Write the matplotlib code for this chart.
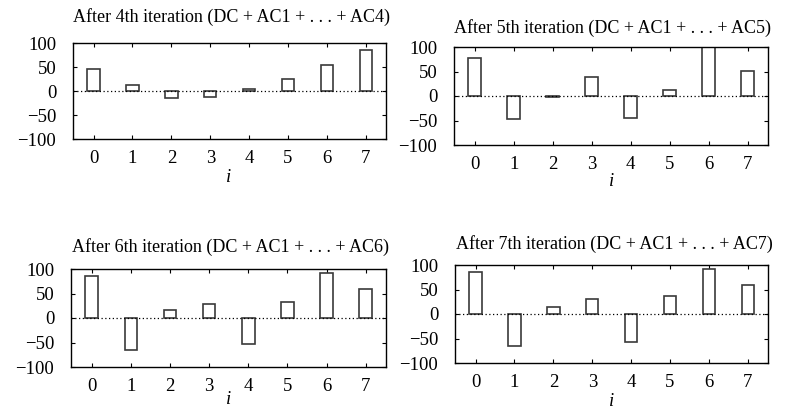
import matplotlib
matplotlib.use("Agg")
import matplotlib.pyplot as plt
import numpy as np

plt.rcParams['font.family'] = ['Liberation Serif', 'DejaVu Serif']

# ---- data ----
indices = [0, 1, 2, 3, 4, 5, 6, 7]
iter4 = [46, 12, -15, -13, 4, 25, 55, 85]
iter5 = [77, -46, -3, 38, -45, 12, 100, 51]
iter6 = [86, -66, 17, 28, -53, 32, 91, 60]
iter7 = [85, -66, 15, 31, -57, 36, 91, 60]
titles = ["After 4th iteration (DC + AC1 + . . . + AC4)",
          "After 5th iteration (DC + AC1 + . . . + AC5)",
          "After 6th iteration (DC + AC1 + . . . + AC6)",
          "After 7th iteration (DC + AC1 + . . . + AC7)"]
yticks = [-100, -50, 0, 50, 100]
yticklabels = ["\u2212100", "\u221250", "0", "50", "100"]
xlabel = "i"

W, H = 792, 409
fig = plt.figure(figsize=(W / 100, H / 100), dpi=100)

# pixel boxes: left, right, top, bottom
boxes = [(73, 386, 43, 139), (454, 768, 47, 145),
         (71, 386, 269, 367), (455, 768, 265, 363)]
title_pos = [(231, 17), (613, 28), (230, 247), (614, 244)]
xlabel_pos = [(229, 177), (612, 182), (229, 399), (612, 402)]
series = [iter4, iter5, iter6, iter7]

for k in range(4):
    l, r, t, b = boxes[k]
    ax = fig.add_axes([l / W, 1 - b / H, (r - l) / W, (b - t) / H])
    ax.bar(indices, series[k], width=0.32, facecolor='white',
           edgecolor='#3a3a3a', linewidth=1.2, zorder=2)
    ax.axhline(0, color='black', linestyle=(0, (1, 2)), linewidth=0.9, zorder=3)
    ax.set_xlim(-0.53, 7.52)
    ax.set_ylim(-100, 100)
    ax.set_xticks(indices)
    ax.set_xticklabels([str(v) for v in indices])
    ax.set_yticks(yticks)
    ax.set_yticklabels(yticklabels)
    ax.tick_params(direction='in', length=3, width=0.8, top=True, right=True,
                   labelsize=13.5, pad=8)
    ax.tick_params(axis='y', pad=12)
    for s in ax.spines.values():
        s.set_linewidth(1.0)
    fig.text(title_pos[k][0] / W, 1 - title_pos[k][1] / H, titles[k],
             ha='center', va='center', fontsize=13)
    fig.text(xlabel_pos[k][0] / W, 1 - xlabel_pos[k][1] / H, xlabel,
             ha='center', va='center', fontsize=13.5, style='italic')

fig.savefig("out.png", dpi=100)
